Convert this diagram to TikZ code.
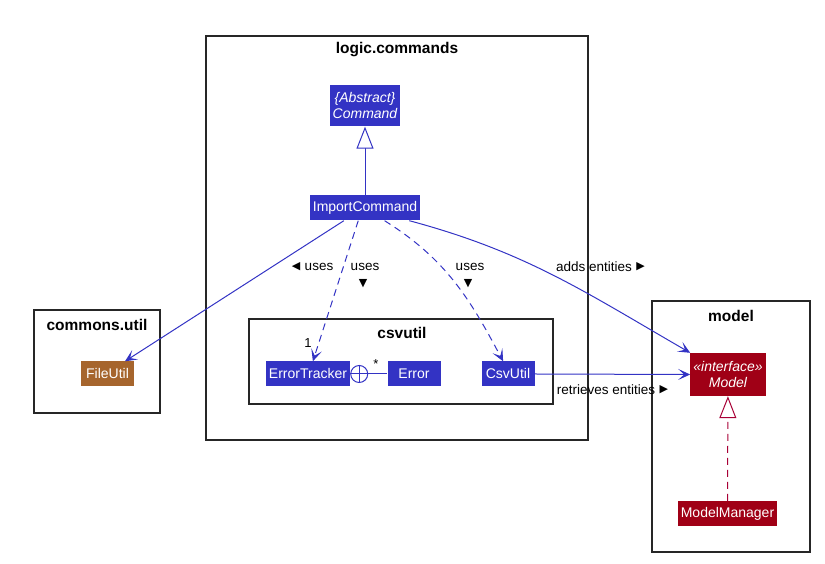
\documentclass[tikz,border=0pt]{standalone}
\usepackage{fontspec}
\setmainfont{Liberation Sans}
\newfontfamily\symfont{DejaVu Sans}
\usetikzlibrary{positioning,arrows.meta,calc}
\definecolor{umlblue}{RGB}{51,51,196}
\definecolor{umlred}{RGB}{160,0,22}
\definecolor{umlbrown}{RGB}{166,101,45}
\definecolor{realc}{RGB}{168,0,54}
\tikzset{
  cls/.style={rectangle,fill=umlblue,text=white,font=\fontsize{14}{16}\selectfont,minimum width=53pt,minimum height=25pt,inner xsep=3pt,inner ysep=2pt,align=center},
  pkg/.style={rectangle,draw=black!85,line width=1.5pt,inner sep=0pt},
  pkgtitle/.style={font=\fontsize{15.5}{18}\selectfont\bfseries,inner sep=0pt},
  lbl/.style={font=\fontsize{13.5}{16}\selectfont,inner sep=0pt},
  mult/.style={font=\fontsize{13}{15}\selectfont,inner sep=0pt},
  tri/.style={font=\symfont\fontsize{11}{12}\selectfont,inner sep=0pt},
  % associations and dependencies
  dep/.style={-{Stealth[length=12pt,width=11pt,inset=6pt]},umlblue,line width=1pt},
  depd/.style={dep,dash pattern=on 7pt off 5pt},
  % generalisation and realisation
  inh/.style={-{Triangle[open,length=22pt,width=17pt,fill=white]},umlblue,line width=1pt},
  real/.style={-{Triangle[open,length=22pt,width=17pt,fill=white]},realc,line width=1pt,dash pattern=on 7pt off 5pt},
}

\begin{document}
\begin{tikzpicture}[x=1pt,y=1pt]
  \useasboundingbox (0,0) rectangle (825,564);
  % packages
  \node[pkg,minimum width=382pt,minimum height=404pt] (logic) at (397,326) {};
  \node[pkgtitle] (logict) at (397,514) {logic.commands};
  \node[pkg,minimum width=304pt,minimum height=85pt] (csv) at (401,202.5) {};
  \node[pkgtitle] (csvt) at (402,231) {csvutil};
  \node[pkg,minimum width=126pt,minimum height=103pt] (commons) at (97,202.5) {};
  \node[pkgtitle] (commonst) at (97,239) {commons.util};
  \node[pkg,minimum width=158pt,minimum height=251pt] (model) at (731,137.5) {};
  \node[pkgtitle] (modelt) at (731,248) {model};

  % classes
  \node[cls,minimum width=70pt,minimum height=41pt] (cmd) at (365,458) {\itshape\{Abstract\}\\\itshape Command};
  \node[cls] (imp) at (365,356) {ImportCommand};
  \node[cls] (et) at (308,190) {ErrorTracker};
  \node[cls] (err) at (414,190) {Error};
  \node[cls] (cu) at (508,190) {CsvUtil};
  \node[cls,fill=umlbrown] (fu) at (107.5,190) {FileUtil};
  \node[cls,fill=umlred,minimum width=68pt,minimum height=43pt] (mdl) at (728,189.5) {\itshape«interface»\\\itshape Model};
  \node[cls,fill=umlred] (mm) at (727.5,50.5) {ModelManager};

  % nesting of Error inside ErrorTracker
  \node[circle,draw=umlblue,line width=1pt,minimum size=17pt,inner sep=0pt,right=0pt of et] (nest) {};
  \draw[umlblue,line width=1pt] (nest.north) -- (nest.south) (nest.west) -- (nest.east);
  \draw[umlblue,line width=1pt] (nest) -- (err);

  % connectors
  \draw[inh] (imp) -- (cmd);
  \draw[real] (mm) -- (mdl);
  \draw[dep] (imp.211) -- (fu.36);
  \draw[depd] (imp.242) -- (et.69);
  \draw[depd] (imp.327) to[out=-32,in=118] (cu.111);
  \draw[dep] (imp.344) to[out=-15,in=150] (mdl.north west);
  \draw[dep] (cu.east) -- (mdl.west);

  % labels
  \node[lbl] (l1) at (319,297) {uses};
  \node[tri,left=4pt of l1] (l1a) {◀};
  \node[lbl] (l2) at (365,297) {uses};
  \node[tri] (l2a) at (363,280) {▼};
  \node[lbl] (l3) at (470,297) {uses};
  \node[tri] (l3a) at (468,280) {▼};
  \node[lbl] (l4) at (594,297) {adds entities};
  \node[tri,right=4pt of l4] (l4a) {▶};
  \node[lbl] (l5) at (606,174) {retrieves entities};
  \node[tri,right=4pt of l5] (l5a) {▶};
  \node[mult] (m1) at (308,221) {1};
  \node[mult] (m2) at (376,200) {*};
\end{tikzpicture}
\end{document}
